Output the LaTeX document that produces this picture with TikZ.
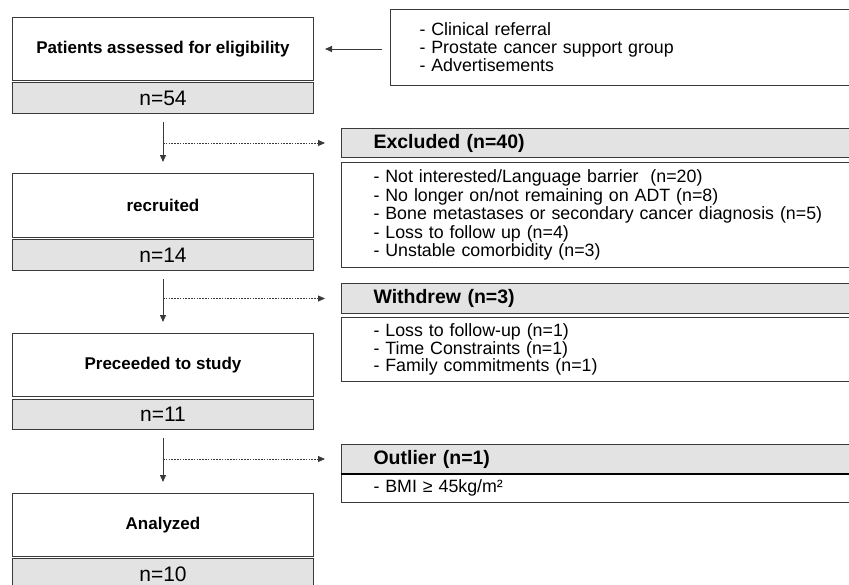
\documentclass[tikz,border=0pt]{standalone}
\usepackage{fontspec}
\setmainfont{Liberation Sans}
\usetikzlibrary{positioning}
\usetikzlibrary{arrows.meta}
\definecolor{boxline}{HTML}{3A3A3A}
\definecolor{boxgray}{HTML}{E3E3E3}

\begin{document}
\begin{tikzpicture}[x=1pt,y=-1pt,
  every node/.style={draw=boxline,line width=1pt,rectangle,anchor=north west,inner sep=0pt},
  stage/.style={fill=white,minimum width=301pt,minimum height=63pt,font=\fontsize{17}{20}\selectfont\bfseries},
  count/.style={fill=boxgray,minimum width=301pt,minimum height=31pt,font=\fontsize{21}{24}\selectfont},
  head/.style={fill=boxgray,text width=456pt,inner xsep=32pt,minimum height=29pt,align=left,font=\fontsize{19.5}{22}\selectfont\bfseries},
  list/.style={fill=white,text width=456pt,inner xsep=32pt,align=left,font=\fontsize{17.8}{17.5}\selectfont},
  flow/.style={draw=boxline,line width=1pt,shorten <=8pt,shorten >=11pt,-{Triangle[length=7pt,width=6pt]}},
  skip/.style={draw=boxline,line width=0.8pt,dash pattern=on 1.6pt off 1.2pt,shorten >=16pt,-{Triangle[length=7pt,width=6pt]}}]
\useasboundingbox (0,0) rectangle (849,584);
\clip (0,0) rectangle (849,584);
\fill[white] (0,0) rectangle (849,584);
\node[stage] (pat) at (12,17) {Patients assessed for eligibility};
\node[count] (n54) at (12,82) {n=54};
\node[stage,minimum height=64pt] (rec) at (12,173) {recruited};
\node[count] (n14) at (12,239) {n=14};
\node[stage] (pro) at (12,333) {Preceeded to study};
\node[count,minimum height=30pt] (n11) at (12,399) {n=11};
\node[stage] (ana) at (12,493) {Analyzed};
\node[count] (n10) at (12,558) {n=10};
\node[list,text width=412pt,inner xsep=29pt,minimum height=76pt,font=\fontsize{17.8}{18}\selectfont] (src) at (390,9)
  {- Clinical referral\\- Prostate cancer support group\\- Advertisements};
\node[head] (exh) at (341,128) {Excluded (n=40)};
\node[list,minimum height=105pt,font=\fontsize{17.8}{18.5}\selectfont] (exl) at (341,162)
  {- Not interested/Language barrier~~(n=20)\\- No longer on/not remaining on ADT (n=8)\\- Bone metastases or secondary cancer diagnosis (n=5)\\- Loss to follow up (n=4)\\- Unstable comorbidity (n=3)};
\node[head,minimum height=30pt] (wdh) at (341,283) {Withdrew (n=3)};
\node[list,minimum height=64pt,font=\fontsize{17.8}{16.5}\selectfont] (wdl) at (341,317)
  {- Loss to follow-up (n=1)\\- Time Constraints (n=1)\\- Family commitments (n=1)};
\node[head] (outh) at (341,444) {Outlier (n=1)};
\node[list,minimum height=29pt] (outl) at (341,473) {- BMI ≥ 45kg/m²};
\draw[line width=1.8pt,black] (outh.south west) -- (outh.south east);
\draw[flow] (src.west |- pat.east) -- (pat.east);
\draw[flow] (n54) -- (rec);
\draw[flow] (n14) -- (pro);
\draw[flow] (n11) -- (ana);
\draw[skip] (n54.south |- exh.west) -- (exh.west);
\draw[skip] (n14.south |- wdh.west) -- (wdh.west);
\draw[skip] (n11.south |- outh.west) -- (outh.west);
\end{tikzpicture}
\end{document}
